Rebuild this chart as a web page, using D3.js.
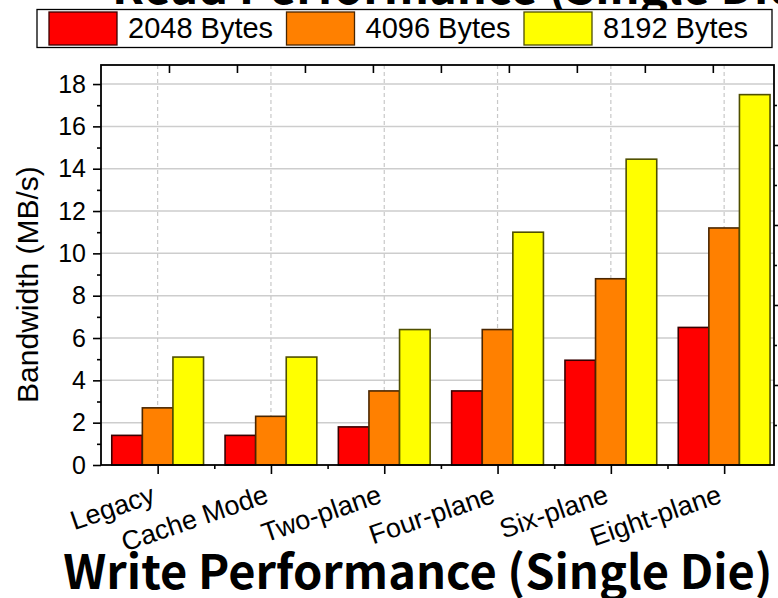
<!DOCTYPE html>
<html>
<head>
<meta charset="utf-8">
<script src="https://cdn.jsdelivr.net/npm/d3@7"></script>
<style>
  html, body { margin: 0; padding: 0; background: #fff; }
  svg { display: block; }
</style>
</head>
<body>
<svg id="chart" width="778" height="598"></svg>
<script>
// ---- data ----
const categories = ["Legacy", "Cache Mode", "Two-plane", "Four-plane", "Six-plane", "Eight-plane"];
const seriesNames = ["2048 Bytes", "4096 Bytes", "8192 Bytes"];
const bytes2048 = [1.4, 1.4, 1.8, 3.5, 4.95, 6.5];
const bytes4096 = [2.7, 2.3, 3.5, 6.4, 8.8, 11.2];
const bytes8192 = [5.1, 5.1, 6.4, 11.0, 14.45, 17.5];
const yTicks = [0, 2, 4, 6, 8, 10, 12, 14, 16, 18];
const yMinorTicks = [1, 3, 5, 7, 9, 11, 13, 15, 17];
const yLabel = "Bandwidth (MB/s)";
const chartTitle = "Write Performance (Single Die)";
const upperTitle = "Read Performance (Single Die)";

// ---- styles ----
const fills = ["#ff0000", "#ff8000", "#ffff00"];
const edges = ["#3a0000", "#4a2600", "#4f4f00"];
const sans = "'Liberation Sans', Arial, sans-serif";
const titleFont = "'Noto Sans CJK KR', 'Noto Sans', sans-serif";

const series = [bytes2048, bytes4096, bytes8192];

const svg = d3.select("#chart");

// plot frame
const plotL = 101, plotR = 774, plotT = 65, plotB = 465;

const x = d3.scaleLinear().domain([-0.5, 5.44]).range([plotL, plotR]);
const y = d3.scaleLinear().domain([0, 18.9]).range([plotB, plotT]);
// secondary axes drawn on the top and right edges
const x2 = d3.scaleLinear().domain([0, 9.9]).range([plotL, plotR]);
const y2 = d3.scaleLinear().domain([0, 5]).range([plotB, plotT]);

const step = x(1) - x(0);
const barW = step * 0.27;

// title strip of the chart above (mostly outside the view)
svg.append("text")
  .attr("x", 112).attr("y", 4)
  .attr("font-family", titleFont).attr("font-weight", 700)
  .attr("font-size", 47).attr("fill", "#000")
  .text(upperTitle);

// gridlines
const grid = svg.append("g");
grid.selectAll("line.h").data(yTicks.filter(d => d > 0)).join("line")
  .attr("class", "h")
  .attr("x1", plotL).attr("x2", plotR)
  .attr("y1", d => y(d)).attr("y2", d => y(d))
  .attr("stroke", "#cdcdcd").attr("stroke-width", 1.5);
grid.selectAll("line.v").data(d3.range(categories.length)).join("line")
  .attr("class", "v")
  .attr("y1", plotT).attr("y2", plotB)
  .attr("x1", d => x(d)).attr("x2", d => x(d))
  .attr("stroke", "#c8c8c8").attr("stroke-width", 1.2)
  .attr("stroke-dasharray", "4,3");

// bars
const bars = svg.append("g");
series.forEach((vals, s) => {
  bars.selectAll(null).data(vals).join("rect")
    .attr("x", (d, i) => x(i) + (s - 1.5) * barW)
    .attr("width", barW)
    .attr("y", d => y(d))
    .attr("height", d => y(0) - y(d))
    .attr("fill", fills[s])
    .attr("stroke", edges[s])
    .attr("stroke-width", 1.6);
});

// axes
function styleAxis(g) {
  g.select(".domain").remove();
  g.selectAll(".tick line").attr("stroke", "#000").attr("stroke-width", 1.6);
}

svg.append("g").attr("transform", `translate(${plotL},0)`)
  .call(d3.axisLeft(y).tickValues(yMinorTicks).tickSize(4).tickFormat(""))
  .call(styleAxis);
svg.append("g").attr("transform", `translate(${plotL},0)`)
  .call(d3.axisLeft(y).tickValues(yTicks).tickSize(8).tickPadding(7))
  .call(styleAxis)
  .call(g => g.selectAll(".tick text")
    .attr("font-family", sans).attr("font-size", 25).attr("fill", "#000"));

svg.append("g").attr("transform", `translate(0,${plotB})`)
  .call(d3.axisBottom(x).tickValues([0.5, 1.5, 2.5, 3.5, 4.5]).tickSize(4).tickFormat(""))
  .call(styleAxis);
svg.append("g").attr("transform", `translate(0,${plotB})`)
  .call(d3.axisBottom(x).tickValues(d3.range(categories.length)).tickSize(9).tickFormat(""))
  .call(styleAxis);

svg.append("g").attr("transform", `translate(0,${plotT})`)
  .call(d3.axisBottom(x2).tickValues(d3.range(1, 10)).tickSize(8).tickFormat(""))
  .call(styleAxis);

svg.append("g").attr("transform", `translate(${plotR},0)`)
  .call(d3.axisRight(y2).tickValues([1, 2, 3, 4]).tickSize(6).tickFormat(""))
  .call(styleAxis);
svg.append("g").attr("transform", `translate(${plotR},0)`)
  .call(d3.axisRight(y2).tickValues([0.5, 1.5, 2.5, 3.5, 4.5]).tickSize(3).tickFormat(""))
  .call(styleAxis);

// frame
svg.append("rect")
  .attr("x", plotL).attr("y", plotT)
  .attr("width", plotR - plotL).attr("height", plotB - plotT)
  .attr("fill", "none").attr("stroke", "#000").attr("stroke-width", 1.8);

// category labels
svg.append("g").selectAll("text").data(categories).join("text")
  .attr("transform", (d, i) => `translate(${x(i) - 1},502) rotate(-19)`)
  .attr("text-anchor", "end")
  .attr("font-family", sans).attr("font-size", 27).attr("fill", "#000")
  .text(d => d);

// y axis title
svg.append("text")
  .attr("transform", `translate(38,${(y(0) + y(18)) / 2 + 10}) rotate(-90)`)
  .attr("text-anchor", "middle")
  .attr("font-family", sans).attr("font-size", 30).attr("fill", "#000")
  .text(yLabel);

// chart title
svg.append("text")
  .attr("x", 418).attr("y", 589)
  .attr("text-anchor", "middle")
  .attr("font-family", titleFont).attr("font-weight", 700)
  .attr("font-size", 47).attr("fill", "#000")
  .text(chartTitle);

// legend
const legend = svg.append("g");
legend.append("rect")
  .attr("x", 37).attr("y", 9.5).attr("width", 735).attr("height", 38)
  .attr("fill", "#fff").attr("stroke", "#000").attr("stroke-width", 1.3);
const item = legend.selectAll("g.item").data(seriesNames).join("g")
  .attr("class", "item")
  .attr("transform", (d, i) => `translate(${49 + i * 237.5},0)`);
item.append("rect")
  .attr("x", 0).attr("y", 12).attr("width", 68).attr("height", 33)
  .attr("fill", (d, i) => fills[i])
  .attr("stroke", (d, i) => edges[i]).attr("stroke-width", 1.3);
item.append("text")
  .attr("x", 79).attr("y", 38)
  .attr("font-family", sans).attr("font-size", 29).attr("fill", "#000")
  .text(d => d);
</script>
</body>
</html>
